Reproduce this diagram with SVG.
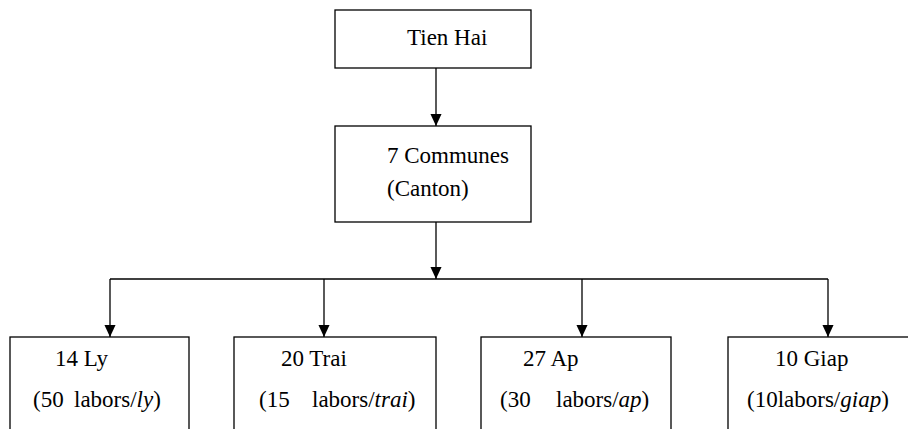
<svg xmlns="http://www.w3.org/2000/svg" width="908" height="429" viewBox="0 0 908 429">
<style>
.box{fill:#fff;stroke:#000;stroke-width:1.3}
.ln{fill:none;stroke:#000;stroke-width:1.3}
.it{font-style:italic}
</style>
<defs>
<marker id="ah" markerUnits="userSpaceOnUse" markerWidth="12" markerHeight="14" refX="13" refY="6" orient="auto" viewBox="0 0 13 12">
<path d="M0,0 L13,6 L0,12 Z" fill="#000"/>
</marker>
</defs>
<rect width="908" height="429" fill="#fff"/>
<g id="connectors">
<line class="ln" x1="436" y1="68" x2="436" y2="126" marker-end="url(#ah)"/>
<line class="ln" x1="436" y1="222" x2="436" y2="279" marker-end="url(#ah)"/>
<line class="ln" x1="110" y1="279" x2="828" y2="279"/>
<line class="ln" x1="110" y1="279" x2="110" y2="337" marker-end="url(#ah)"/>
<line class="ln" x1="324" y1="279" x2="324" y2="337" marker-end="url(#ah)"/>
<line class="ln" x1="582" y1="279" x2="582" y2="337" marker-end="url(#ah)"/>
<line class="ln" x1="828" y1="279" x2="828" y2="337" marker-end="url(#ah)"/>
</g>
<g font-family="'Liberation Serif', 'Times New Roman', 'DejaVu Serif', serif" font-size="23" fill="#000">
<g id="tienhai">
<rect class="box" x="335" y="10" width="196" height="58"/>
<text x="407" y="45">Tien Hai</text>
</g>
<g id="communes">
<rect class="box" x="335" y="126" width="196" height="96"/>
<text x="387" y="163">7 Communes</text>
<text x="387" y="196">(Canton)</text>
</g>
<g id="ly">
<rect class="box" x="10" y="337" width="179" height="110"/>
<text x="55" y="366">14 Ly</text>
<text y="407"><tspan x="33">(50</tspan><tspan x="74">labors/</tspan><tspan class="it">ly</tspan><tspan>)</tspan></text>
</g>
<g id="trai">
<rect class="box" x="234" y="337" width="202" height="110"/>
<text x="281" y="366">20 Trai</text>
<text y="407"><tspan x="259">(15</tspan><tspan x="312">labors/</tspan><tspan class="it">trai</tspan><tspan>)</tspan></text>
</g>
<g id="ap">
<rect class="box" x="481" y="337" width="190" height="110"/>
<text x="523" y="366">27 Ap</text>
<text y="407"><tspan x="500">(30</tspan><tspan x="556">labors/</tspan><tspan class="it">ap</tspan><tspan>)</tspan></text>
</g>
<g id="giap">
<rect class="box" x="728" y="337" width="190" height="110"/>
<text x="775" y="366">10 Giap</text>
<text y="407"><tspan x="747">(10labors/</tspan><tspan class="it">giap</tspan><tspan>)</tspan></text>
</g>
</g>
</svg>
